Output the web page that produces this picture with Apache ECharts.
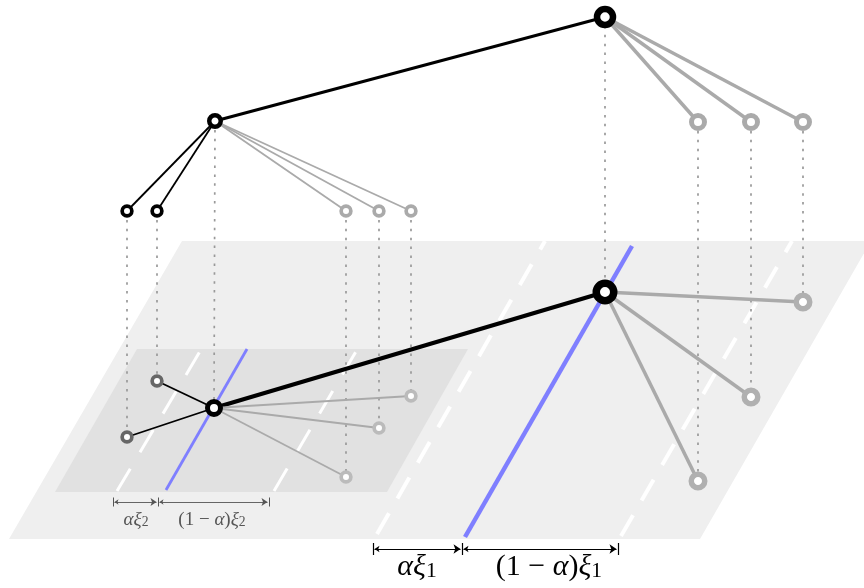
<!DOCTYPE html>
<html><head><meta charset="utf-8">
<script src="https://cdn.jsdelivr.net/npm/echarts@6/dist/echarts.min.js"></script>
<style>html,body{margin:0;padding:0;background:#fff}#c{width:864px;height:588px}</style>
</head><body><div id="c"></div>
<script>
// ---- data (diagram coordinates) ----
const planeOuter = [[182,241],[871,241],[700,539],[9,539]];
const planeInner = [[137,349],[468,349],[387,492],[55,492]];

const blueLines = [[[465,537],[632,246]], [[166,490],[247,349]]];
const dashedBig = [[[377,534],[545,241]], [[621,536],[792,241]]];
const dashedSmall = [[[117,491],[202,348]], [[274,491],[358,348]]];

const rootTop = [605,17];
const midTop = [215,121];
const grayTop = [[698,122],[751,122],[803,122]];
const leafBlackTop = [[127,211],[157,211]];
const leafGrayTop = [[346,211],[379,211],[411,211]];

const rootBot = [605,292];
const midBot = [214,408];
const grayBot = [[698,481],[751,397],[803,302]];
const leafBlackBot = [[127,437],[157,381]];
const leafGrayBot = [[346,477],[379,428],[411,396]];

const ticksBig = [373,462,618];
const ticksSmall = [113,158,269];
const labelsBig = ['{i|αξ}{s|1}', '{r|(1 − }{i|α}{r|)}{i|ξ}{s|1}'];
const labelsSmall = ['{i|αξ}{s|2}', '{r|(1 − }{i|α}{r|)}{i|ξ}{s|2}'];
const labelPosBig = [[417,566],[549,566]];
const labelPosSmall = [[136,519],[212,519]];

// ---- build ----
function seg(a,b,style){return {coords:[a,b], lineStyle:style};}
const dotted = [];
[[leafBlackTop,leafBlackBot],[leafGrayTop,leafGrayBot],[grayTop,grayBot]].forEach(([t,b])=>{
  t.forEach((p,i)=>dotted.push({coords:[p,b[i]]}));
});
dotted.push({coords:[midTop,midBot]});
dotted.push({coords:[rootTop,rootBot]});

const edges = [];
edges.push(seg(rootTop,midTop,{color:'#000',width:3}));
grayTop.forEach(p=>edges.push(seg(rootTop,p,{color:'#aaa',width:3.5})));
leafBlackTop.forEach(p=>edges.push(seg(midTop,p,{color:'#000',width:1.8})));
leafGrayTop.forEach(p=>edges.push(seg(midTop,p,{color:'#aaa',width:1.8})));
edges.push(seg(rootBot,midBot,{color:'#000',width:4}));
grayBot.forEach(p=>edges.push(seg(rootBot,p,{color:'#aaa',width:3.5})));
leafBlackBot.forEach(p=>edges.push(seg(midBot,p,{color:'#000',width:1.8})));
leafGrayBot.forEach(p=>edges.push(seg(midBot,p,{color:'#aaa',width:1.8})));

function nodes(pts,size,bw,color){
  return pts.map(p=>({value:p,symbolSize:size,itemStyle:{color:'#fff',opacity:1,borderColor:color,borderWidth:bw}}));
}
const nodeData = [].concat(
  nodes([rootTop],16,6.5,'#000'),
  nodes([rootBot],17.5,7.5,'#000'),
  nodes([midTop],11.5,4.5,'#000'),
  nodes([midBot],13,5,'#000'),
  nodes(grayTop,13,5,'#aaa'),
  nodes(grayBot,13.5,5.5,'#b0b0b0'),
  nodes(leafBlackTop,9.7,3.7,'#000'),
  nodes(leafGrayTop,9.7,3.7,'#aaa'),
  nodes(leafBlackBot,9.7,3.7,'#666'),
  nodes(leafGrayBot,9.7,3.7,'#bbb')
);

function measure(ticks,y,th){
  const arrows=[], tk=[];
  for(let i=0;i<ticks.length-1;i++) arrows.push({coords:[[ticks[i]+1.5,y],[ticks[i+1]-1.5,y]]});
  ticks.forEach(x=>tk.push({coords:[[x,y-th],[x,y+th]]}));
  return {arrows,tk};
}
const mBig = measure(ticksBig,549,6);
const mSmall = measure(ticksSmall,502,4.5);

function labelData(pos,txt){return pos.map((p,i)=>({value:p,label:{formatter:txt[i]}}));}

const chart = echarts.init(document.getElementById('c'),null,{renderer:'canvas'});
const serifFont = "'Liberation Serif','DejaVu Serif',serif";
function richFor(size,color){
  return {
    i:{fontFamily:serifFont,fontStyle:'italic',fontSize:size,color:color,verticalAlign:'bottom',lineHeight:size*1.1},
    r:{fontFamily:serifFont,fontSize:size,color:color,verticalAlign:'bottom',lineHeight:size*1.1},
    s:{fontFamily:serifFont,fontSize:size*0.72,color:color,verticalAlign:'bottom',lineHeight:size*0.42}
  };
}
chart.setOption({
  animation:false,
  grid:{left:0,right:0,top:0,bottom:0},
  xAxis:{type:'value',min:0,max:864,show:false},
  yAxis:{type:'value',min:0,max:588,inverse:true,show:false},
  series:[
    {type:'custom',z:1,silent:true,data:[0,1],
     renderItem:function(params,api){
       const poly=[planeOuter,planeInner][params.dataIndex];
       return {type:'polygon',shape:{points:poly.map(p=>api.coord(p))},
         style:{fill:params.dataIndex===0?'#efefef':'#e1e1e1'}};
     }},
    {type:'lines',coordinateSystem:'cartesian2d',z:2,silent:true,
     data:dashedBig.map(c=>({coords:c})),
     lineStyle:{color:'#fff',width:4,type:[24,17],opacity:1}},
    {type:'lines',coordinateSystem:'cartesian2d',z:2,silent:true,
     data:dashedSmall.map(c=>({coords:c})),
     lineStyle:{color:'#fff',width:3,type:[26,19],opacity:1}},
    {type:'lines',coordinateSystem:'cartesian2d',z:3,silent:true,
     data:blueLines.map((c,i)=>({coords:c,lineStyle:{width:i===0?4.5:2.8}})),
     lineStyle:{color:'#7f7fff',opacity:1}},
    {type:'lines',coordinateSystem:'cartesian2d',z:4,silent:true,
     data:dotted,lineStyle:{color:'#999',width:1.7,type:[2.5,6.4],opacity:1}},
    {type:'lines',coordinateSystem:'cartesian2d',z:5,silent:true,
     data:edges,lineStyle:{opacity:1}},
    {type:'scatter',z:6,silent:true,symbol:'circle',data:nodeData,itemStyle:{opacity:1}},
    {type:'lines',coordinateSystem:'cartesian2d',z:7,silent:true,
     data:mBig.arrows,symbol:['arrow','arrow'],symbolSize:[5,7],
     lineStyle:{color:'#000',width:1,opacity:1},itemStyle:{color:'#000'}},
    {type:'lines',coordinateSystem:'cartesian2d',z:7,silent:true,
     data:mBig.tk,lineStyle:{color:'#000',width:1.2,opacity:1}},
    {type:'lines',coordinateSystem:'cartesian2d',z:7,silent:true,
     data:mSmall.arrows,symbol:['arrow','arrow'],symbolSize:[4,6],
     lineStyle:{color:'#555',width:0.9,opacity:1},itemStyle:{color:'#555'}},
    {type:'lines',coordinateSystem:'cartesian2d',z:7,silent:true,
     data:mSmall.tk,lineStyle:{color:'#555',width:1,opacity:1}},
    {type:'scatter',z:8,silent:true,symbolSize:1,itemStyle:{color:'rgba(0,0,0,0)',opacity:1},
     data:labelData(labelPosBig,labelsBig),
     label:{show:true,position:'inside',rich:richFor(30,'#000')}},
    {type:'scatter',z:8,silent:true,symbolSize:1,itemStyle:{color:'rgba(0,0,0,0)',opacity:1},
     data:labelData(labelPosSmall,labelsSmall),
     label:{show:true,position:'inside',rich:richFor(19,'#555')}}
  ]
});
</script></body></html>
